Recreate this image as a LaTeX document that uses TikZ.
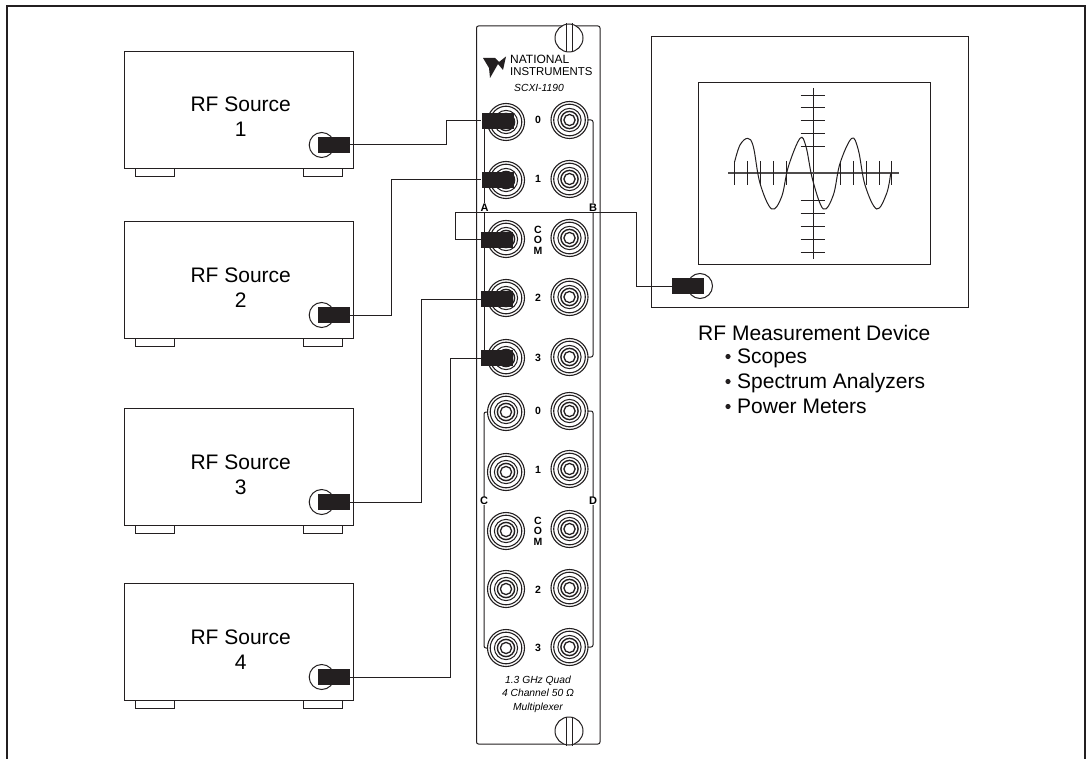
\documentclass[tikz,border=0pt]{standalone}
\usepackage{fontspec}
\setmainfont{Liberation Sans}
\definecolor{ink}{HTML}{231F20}
\tikzset{
  ln/.style={draw=ink,line width=1pt},
  srcbox/.style={draw=ink,line width=1.2pt,fill=white,rectangle,minimum width=229pt,minimum height=117pt,inner sep=0pt,anchor=north west},
  foot/.style={draw=ink,line width=1pt,fill=white,rectangle,minimum width=39pt,minimum height=8pt,inner sep=0pt,anchor=north west},
  port/.style={draw=ink,line width=1pt,fill=white,circle,minimum size=25pt,inner sep=0pt},
  plug/.style={fill=ink,rectangle,minimum width=32pt,minimum height=16pt,inner sep=0pt},
  wire/.style={draw=ink,line width=1pt},
  ring/.style={draw=ink,fill=white,circle,minimum size=37pt,inner sep=0pt,line width=1.1pt},
  big/.style={font=\fontsize{21}{25}\selectfont,inner sep=0pt,anchor=base,align=center},
  lab/.style={font=\fontsize{21}{25}\selectfont,inner sep=0pt,anchor=base west},
  mini/.style={font=\fontsize{10.3}{13.5}\selectfont\itshape,inner sep=0pt,anchor=base,align=center},
  num/.style={font=\fontsize{10.5}{10.5}\selectfont\bfseries,inner sep=0pt,align=center},
  let/.style={font=\fontsize{11}{12}\selectfont\bfseries,inner sep=.6pt,fill=white},
  screw/.style={draw=ink,line width=1pt,fill=white,circle,minimum size=28pt,inner sep=0pt},
  tick/.style={draw=ink,line width=.9pt},
}
\newcommand{\jack}[3]{%
  \node[ring] (#1) at (#2,#3) {};
  \draw[ink,line width=1.1pt] (#1.center) circle[radius=15.8pt];
  \draw[ink,line width=1pt] (#1.center) circle[radius=11.6pt];
  \draw[ink,line width=1.4pt] (#1.center) circle[radius=8.6pt];
  \draw[ink,line width=1.3pt] (#1.center) circle[radius=5.6pt];
}
\newcommand{\source}[3]{%
  \node[srcbox] (s#1) at (124,#2) {};
  \node[foot] (fl#1) at (134.5,#2+117) {};
  \node[foot] (fr#1) at (303,#2+117) {};
  \node[big] (t#1) at (240.7,#2+86) {RF Source\\#1};
  \node[port] (sp#1) at (321.7,#2+#3) {};
  \node[plug] (pl#1) at (333.5,#2+#3) {};
}
\newcommand{\screwat}[3]{%
  \node[screw] (#1) at (#2,#3) {};
  \draw[ink,line width=1pt] ($(#1.north)+(-3,0)$) -- ($(#1.south)+(-3,0)$);
  \draw[ink,line width=1pt] ($(#1.north)+(3,0)$) -- ($(#1.south)+(3,0)$);
}
\usetikzlibrary{calc}
\begin{document}
\begin{tikzpicture}[x=1pt,y=-1pt]
\useasboundingbox (0,0) rectangle (1086,759);
% frame
\coordinate (fa) at (7,759); \coordinate (fb) at (7,6); \coordinate (fc) at (1085,6); \coordinate (fd) at (1085,759);
\draw[ink,line width=2pt] (fa) -- (fb) -- (fc) -- (fd);
% sources
\source{1}{51}{94}
\source{2}{221}{94}
\source{3}{408}{94}
\source{4}{583}{94}
% panel
\node[draw=ink,line width=1pt,rounded corners=2pt,fill=white,minimum width=123.5pt,minimum height=718pt,inner sep=0pt,anchor=north west] (panel) at (476,25.5) {};
\screwat{st}{569}{38}
\screwat{sb}{569}{731}
% logo
\fill[ink] (483,58) -- (495,58) -- (499,62) -- (506,56.5) -- (503,70) -- (498,64) -- (490,78) -- (489,68) -- cycle;
\node[inner sep=0pt,anchor=base west,font=\fontsize{12}{12}\selectfont] (lg1) at (510,64) {NATIONAL};
\node[inner sep=0pt,anchor=base west,font=\fontsize{11.4}{12}\selectfont] (lg2) at (510,76) {INSTRUMENTS};
\node[mini] (model) at (539,92) {SCXI-1190};
% rails
\coordinate (ra1) at (484.5,122); \coordinate (ra2) at (484.5,358);
\coordinate (rb1) at (593,120); \coordinate (rb2) at (593,357);
\coordinate (rc1) at (484,412); \coordinate (rc2) at (484,648);
\coordinate (rd1) at (593,411); \coordinate (rd2) at (593,647);
\draw[ln] (ra1) -- (ra2);
\draw[ln,rounded corners=2pt] (569,120) -- (rb1) -- (rb2) -- (569,357);
\draw[ln,rounded corners=2pt] (505,412) -- (rc1) -- (rc2) -- (505,648);
\draw[ln,rounded corners=2pt] (569,411) -- (rd1) -- (rd2) -- (569,647);
% jacks
\jack{a0}{506}{122}\jack{a1}{506}{180}\jack{ac}{506}{239}\jack{a2}{506}{298}\jack{a3}{506}{358}
\jack{b0}{569.5}{120}\jack{b1}{569.5}{179}\jack{bc}{569.5}{238}\jack{b2}{569.5}{297}\jack{b3}{569.5}{357}
\jack{c0}{506}{412}\jack{c1}{506}{472}\jack{cc}{506}{531}\jack{c2}{506}{589}\jack{c3}{506}{648}
\jack{d0}{569.5}{411}\jack{d1}{569.5}{469}\jack{dc}{569.5}{529}\jack{d2}{569.5}{588}\jack{d3}{569.5}{647}
% letters and numbers
\node[let] (la) at (484.5,207.5) {A};
\node[let] (lb) at (593,207.5) {B};
\node[let] (lc) at (484,501) {C};
\node[let] (ld) at (593,501) {D};
\foreach \n/\t/\y in {n0/0/120,n1/1/179,n2/2/298,n3/3/358,m0/0/411,m1/1/470,m2/2/590,m3/3/648}
  \node[num] (\n) at (538,\y) {\t};
\node[num] (ncom) at (538,240) {C\\O\\M};
\node[num] (mcom) at (538,531) {C\\O\\M};
\node[mini] (desc) at (538,710) {1.3 GHz Quad\\4 Channel 50 Ω\\Multiplexer};
% plugs on the panel
\node[plug] (q0) at (497.5,121) {};
\node[plug] (q1) at (497.5,180) {};
\node[plug] (qc) at (497,240) {};
\node[plug] (q2) at (497,299) {};
\node[plug] (q3) at (497,358) {};
% measurement device
\node[draw=ink,line width=1.2pt,fill=white,minimum width=317pt,minimum height=271pt,inner sep=0pt,anchor=north west] (dev) at (651,36) {};
\node[draw=ink,line width=1.2pt,fill=white,minimum width=232pt,minimum height=182pt,inner sep=0pt,anchor=north west] (scr) at (698,82) {};
\coordinate (vt) at (813,88); \coordinate (vb) at (813,259);
\coordinate (hl) at (728,173); \coordinate (hr) at (899,173);
\draw[ink,line width=1pt] (vt) -- (vb);
\draw[ink!80,line width=1.1pt] (hl) -- (hr);
\foreach \x in {734.7,747.3,760.7,773.7,786.3,840,853.3,866.7,879.3,891.7}
  \draw[tick] (\x,161) -- (\x,185);
\foreach \y in {95,107.3,120,133.3,146.7,200.7,213,226,239.3,252}
  \draw[tick] (800.5,\y) -- (825,\y);
\begin{scope}[shift={(650,30)},x=.33333pt,y=-.33333pt]
\draw[ink,line width=1pt] plot[smooth,tension=.6] coordinates {(254,395)(270,345)(293,325)(310,350)(330,460)(365,537)(395,500)(415,410)(450,325)(468,350)(488,450)(520,537)(550,495)(570,400)(605,325)(625,360)(645,465)(680,537)(710,490)(722,430)};
\end{scope}
\node[port] (dp) at (700,286) {};
\node[plug] (dq) at (688,286) {};
% wires
\coordinate (w1) at (446,145);
\coordinate (w2) at (391,315);
\coordinate (w3) at (421,502);
\coordinate (w4) at (450,677);
\coordinate (wa) at (455,240);
\coordinate (wb) at (455,213);
\coordinate (wc) at (636,213);
\coordinate (wd) at (636,286);
\draw[wire] (pl1.east) -- (w1) |- (q0.west);
\draw[wire] (pl2.east) -- (w2) |- (q1.west);
\draw[wire] (pl3.east) -- (w3) |- (q2.west);
\draw[wire] (pl4.east) -- (w4) |- (q3.west);
\draw[wire] (qc.west) -- (wa) -- (wb) -- (wc) -- (wd) -- (dq.west);
% labels
\node[big,anchor=base west] (rfm) at (698,340) {RF Measurement Device};
\foreach \n/\t/\y in {i1/Scopes/363,i2/Spectrum Analyzers/388,i3/Power Meters/413}{
  \node[lab] (\n) at (737,\y) {\t};
  \fill[ink] (728,\y-6.5) circle[radius=2.6pt];
}
\end{tikzpicture}
\end{document}
